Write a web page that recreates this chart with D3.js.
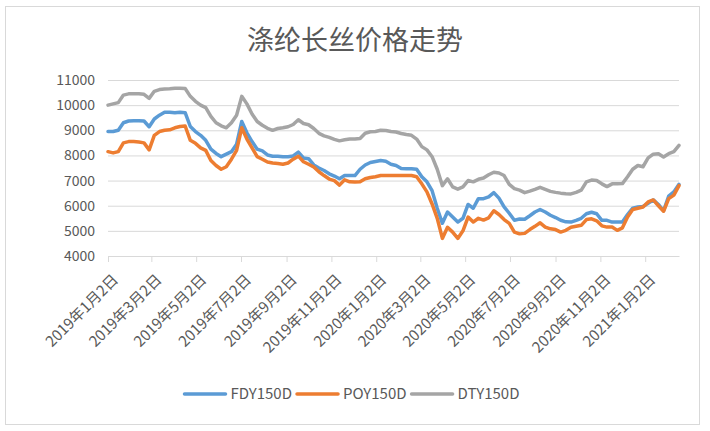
<!DOCTYPE html>
<html>
<head>
<meta charset="utf-8">
<script src="https://cdn.jsdelivr.net/npm/d3@7/dist/d3.min.js"></script>
<style>
  body { margin: 0; background: #fff; }
  svg { display: block; font-family: "Noto Sans CJK SC", "Noto Sans", sans-serif; }
</style>
</head>
<body>
<svg width="710" height="431"></svg>
<script>
// weekly readings, first week 2019-01-02, last 2021-02-17
var startDate = new Date(2019, 0, 2),
    endDate = new Date(2021, 1, 17);

var fdy = [
  8950, 8950, 9000, 9300, 9370, 9380, 9380, 9370, 9140, 9450, 9600, 9720, 9720, 9700, 9720, 9700, 9150, 8950,
  8800, 8600, 8250, 8080, 7950, 8050, 8150, 8450, 9350, 8900, 8550, 8250, 8180, 8020, 7970, 7970, 7950, 7950,
  7980, 8130, 7900, 7870, 7620, 7500, 7400, 7270, 7180, 7070, 7200, 7200, 7200, 7450, 7620, 7720, 7760, 7800,
  7770, 7650, 7600, 7480, 7470, 7470, 7450, 7150, 6950, 6600, 5900, 5300, 5750, 5550, 5350, 5500, 6050, 5900, 6280,
  6280, 6350, 6520, 6300, 5950, 5700, 5420, 5470, 5460, 5600, 5750, 5850, 5750, 5620, 5530, 5420, 5360, 5350,
  5420, 5500, 5680, 5740, 5680, 5420, 5420, 5350, 5350, 5350, 5650, 5900, 5950, 5970, 6100, 6230, 6050, 5800,
  6380, 6550, 6850
];

var poy = [
  8150, 8100, 8150, 8500, 8550, 8550, 8530, 8500, 8220, 8800, 8950, 9000, 9020, 9100, 9150, 9170, 8600, 8480,
  8300, 8200, 7800, 7600, 7450, 7550, 7850, 8200, 9100, 8650, 8300, 7950, 7850, 7740, 7700, 7680, 7650, 7700,
  7850, 7970, 7750, 7650, 7540, 7350, 7200, 7060, 7000, 6820, 7030, 6950, 6940, 6950, 7070, 7120, 7150, 7200,
  7200, 7200, 7200, 7200, 7200, 7200, 7150, 6870, 6550, 6070, 5500, 4700, 5140, 4950, 4700, 5000, 5550, 5350, 5500,
  5430, 5520, 5800, 5650, 5450, 5300, 4950, 4880, 4900, 5050, 5180, 5320, 5150, 5080, 5050, 4950, 5020, 5140,
  5180, 5220, 5450, 5480, 5400, 5200, 5150, 5150, 5020, 5120, 5550, 5850, 5900, 5950, 6150, 6230, 6000, 5780,
  6280, 6420, 6800
];

var dty = [
  10000, 10050, 10100, 10400, 10450, 10450, 10450, 10430, 10270, 10550, 10620, 10640, 10650, 10670, 10670, 10660, 10350, 10150,
  10000, 9900, 9550, 9300, 9180, 9100, 9300, 9600, 10350, 10050, 9650, 9350, 9200, 9080, 9000, 9070, 9100, 9140,
  9230, 9420, 9270, 9220, 9070, 8880, 8780, 8720, 8640, 8580, 8620, 8650, 8650, 8670, 8880, 8940, 8950, 9000,
  8990, 8950, 8930, 8870, 8830, 8800, 8650, 8350, 8220, 7950, 7450, 6800, 7070, 6750, 6660, 6750, 7000, 6950, 7050,
  7100, 7230, 7330, 7300, 7200, 6850, 6680, 6620, 6520, 6580, 6650, 6730, 6650, 6570, 6530, 6500, 6480, 6470,
  6530, 6620, 6950, 7020, 7000, 6870, 6760, 6870, 6870, 6880, 7150, 7450, 7600, 7550, 7900, 8050, 8070, 7940,
  8070, 8150, 8400
];

var seriesNames = ["FDY150D", "POY150D", "DTY150D"];
var seriesColors = ["#5B9BD5", "#ED7D31", "#A5A5A5"];
var tickDates = ["2019-01-02", "2019-03-02", "2019-05-02", "2019-07-02", "2019-09-02", "2019-11-02",
                 "2020-01-02", "2020-03-02", "2020-05-02", "2020-07-02", "2020-09-02", "2020-11-02", "2021-01-02"];
var yTicks = [4000, 5000, 6000, 7000, 8000, 9000, 10000, 11000];
var title = "涤纶长丝价格走势";

var svg = d3.select("svg"),
    width = +svg.attr("width"),
    height = +svg.attr("height");

var plotLeft = 108, plotRight = 679, plotTop = 80, plotBottom = 256;

var dates = d3.timeDay.range(startDate, d3.timeDay.offset(endDate, 1), 7);
var parse = d3.timeParse("%Y-%m-%d");
var fmt = d3.timeFormat("%Y年%-m月%-d日");

var x = d3.scaleTime().domain([startDate, endDate]).range([plotLeft, plotRight]);
var y = d3.scaleLinear().domain([4000, 11000]).range([plotBottom, plotTop]);

// chart border
svg.append("rect")
  .attr("x", 5.5).attr("y", 6.5)
  .attr("width", 694).attr("height", 418)
  .attr("fill", "#fff")
  .attr("stroke", "#D9D9D9");

svg.append("text")
  .attr("x", 355).attr("y", 38)
  .attr("text-anchor", "middle")
  .attr("dominant-baseline", "central")
  .style("font-size", "27px")
  .style("fill", "#595959")
  .text(title);

// y grid + labels
var yAxis = svg.append("g")
  .attr("transform", "translate(" + plotLeft + ",0)")
  .call(d3.axisLeft(y).tickValues(yTicks).tickSize(-(plotRight - plotLeft)).tickPadding(13).tickFormat(d3.format("d")));
yAxis.select(".domain").remove();
yAxis.selectAll(".tick line").attr("stroke", "#D9D9D9");
yAxis.selectAll(".tick text")
  .style("font-size", "14px")
  .style("font-family", "\"Noto Sans CJK SC\", sans-serif")
  .style("fill", "#595959");

// x axis
var xAxis = svg.append("g")
  .attr("transform", "translate(0," + plotBottom + ")")
  .call(d3.axisBottom(x).tickValues(tickDates.map(parse)).tickSize(6).tickSizeOuter(0).tickFormat(fmt));
xAxis.select(".domain").attr("stroke", "#D9D9D9");
xAxis.selectAll(".tick line").attr("stroke", "#D9D9D9");
xAxis.selectAll(".tick text")
  .attr("text-anchor", "end")
  .attr("x", 0).attr("y", 0).attr("dy", "0.35em")
  .attr("transform", "translate(7,21) rotate(-45)")
  .style("font-size", "15px")
  .style("font-family", "\"Noto Sans CJK SC\", sans-serif")
  .style("fill", "#595959");

var line = d3.line()
  .x(function(d, i) { return x(dates[i]); })
  .y(function(d) { return y(d); });

[fdy, poy, dty].forEach(function(s, i) {
  svg.append("path")
    .datum(s)
    .attr("d", line)
    .attr("fill", "none")
    .attr("stroke", seriesColors[i])
    .attr("stroke-width", 3.5)
    .attr("stroke-linejoin", "round")
    .attr("stroke-linecap", "round");
});

// legend
var legend = svg.append("g");
var lx = 0;
seriesNames.forEach(function(name, i) {
  var g = legend.append("g").attr("transform", "translate(" + lx + ",0)");
  g.append("line")
    .attr("x1", 0).attr("x2", 41)
    .attr("y1", 0).attr("y2", 0)
    .attr("stroke", seriesColors[i])
    .attr("stroke-width", 3.5)
    .attr("stroke-linecap", "round");
  var t = g.append("text")
    .attr("x", 46).attr("dy", "0.35em")
    .style("font-size", "15px")
    .style("fill", "#595959")
    .text(name);
  lx += 46 + t.node().getComputedTextLength() + 5;
});
legend.attr("transform", "translate(" + (352 - (lx - 5) / 2) + ",394)");
</script>
</body>
</html>
